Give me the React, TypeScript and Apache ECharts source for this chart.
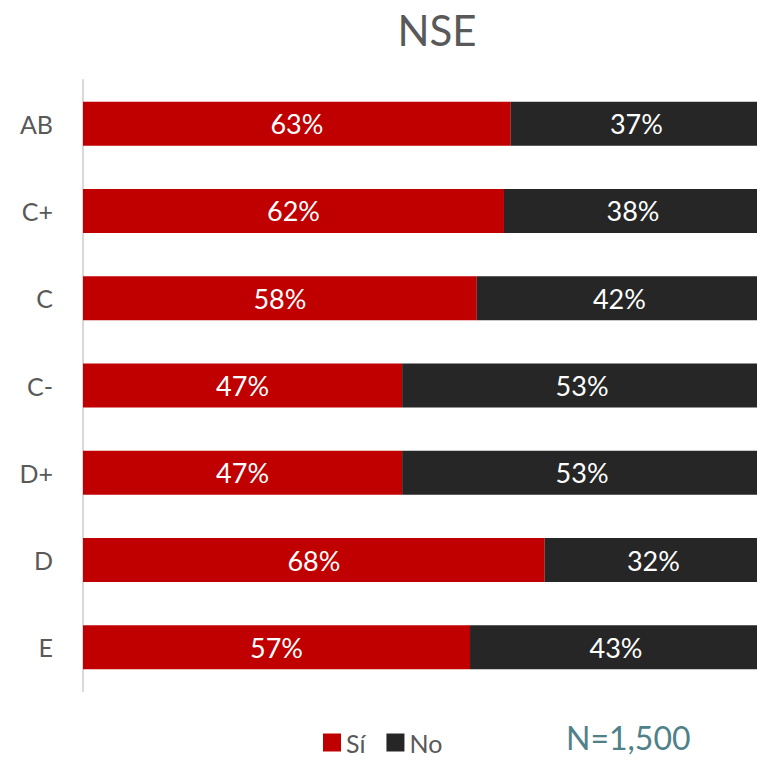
import React, { useEffect, useRef } from "react";
import * as echarts from "echarts";

const categories = ["AB", "C+", "C", "C-", "D+", "D", "E"];
const siValues = [63, 62, 58, 47, 47, 68, 57];
const noValues = [37, 38, 42, 53, 53, 32, 43];
const titleText = "NSE";
const noteText = "N=1,500";

const FONT = "Lato, 'Open Sans', sans-serif";

export default function App() {
  const ref = useRef<HTMLDivElement>(null);
  useEffect(() => {
    if (!ref.current) return;
    const chart = echarts.init(ref.current, null, { renderer: "svg" });
    chart.setOption({
      animation: false,
      title: {
        text: titleText,
        left: 432,
        top: 4,
        textAlign: "center",
        textStyle: { fontFamily: FONT, fontSize: 42, fontWeight: "normal", color: "#595959" },
      },
      legend: {
        data: ["Sí", "No"],
        left: 323,
        top: 730,
        padding: 0,
        itemWidth: 18,
        itemHeight: 18,
        itemGap: 21,
        icon: "rect",
        textStyle: { fontFamily: FONT, fontSize: 25, lineHeight: 23, color: "#595959" },
      },
      graphic: [
        {
          type: "text",
          left: 566,
          top: 721,
          style: { text: noteText, fontFamily: FONT, fontSize: 32, fill: "#4F8189" },
        },
      ],
      grid: { left: 83, right: 0, top: 80, height: 611, containLabel: false },
      xAxis: {
        type: "value",
        min: 0,
        max: 100,
        show: false,
      },
      yAxis: {
        type: "category",
        data: categories,
        inverse: true,
        axisLine: { show: true, lineStyle: { color: "#d9d9d9", width: 2 } },
        axisTick: { show: false },
        axisLabel: { fontFamily: FONT, fontSize: 25, color: "#595959", margin: 30 },
      },
      series: [
        {
          name: "Sí",
          type: "bar",
          stack: "t",
          data: siValues,
          barWidth: 44,
          itemStyle: { color: "#C00000" },
          label: {
            show: true,
            position: "inside",
            formatter: "{c}%",
            fontFamily: FONT,
            fontSize: 27,
            color: "#ffffff",
          },
        },
        {
          name: "No",
          type: "bar",
          stack: "t",
          data: noValues,
          barWidth: 44,
          itemStyle: { color: "#262626" },
          label: {
            show: true,
            position: "inside",
            formatter: "{c}%",
            fontFamily: FONT,
            fontSize: 27,
            color: "#ffffff",
          },
        },
      ],
    });
    return () => chart.dispose();
  }, []);
  return (
    <div style={{ width: 757, height: 760, position: "absolute", left: 0, top: 0, overflow: "hidden" }}>
      <div ref={ref} style={{ width: 762, height: 760 }} />
    </div>
  );
}
